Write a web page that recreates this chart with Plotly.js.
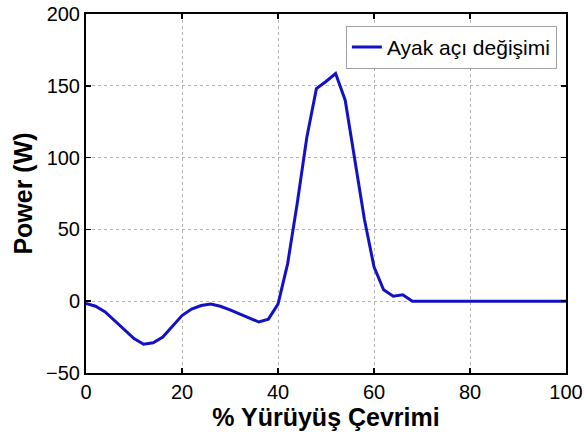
<!DOCTYPE html>
<html>
<head>
<meta charset="utf-8">
<script src="https://cdn.plot.ly/plotly-3.0.1.min.js"></script>
<style>
  html, body { margin: 0; padding: 0; background: #fff; }
  #chart { width: 584px; height: 432px; }
</style>
</head>
<body>
<div id="chart"></div>
<script>
// Gait cycle percentage (x) and ankle power (W)
const gaitPercent = [0, 2, 4, 6, 8, 10, 12, 14, 16, 18, 20, 22, 24, 26, 28, 30, 32, 34, 36, 38,
  40, 42, 44, 46, 48, 50, 52, 54, 56, 58, 60, 62, 64, 66, 68, 70, 72, 74, 76, 78,
  80, 82, 84, 86, 88, 90, 92, 94, 96, 98, 100];
const powerW = [-1.5, -3.5, -7.5, -13.5, -20, -26, -30, -29, -25, -17.5, -10, -5.5, -3, -2, -3.5, -6, -9, -12, -14.5, -12.5,
  -2, 26, 68, 114, 148, 153, 158.5, 140, 100, 57, 24, 8, 3.5, 4.5, 0, 0, 0, 0, 0, 0,
  0, 0, 0, 0, 0, 0, 0, 0, 0, 0, 0];
const seriesName = 'Ayak açı değişimi';
const xTicks = [0, 20, 40, 60, 80, 100];
const yTicks = [-50, 0, 50, 100, 150, 200];

const fontFamily = 'Liberation Sans, Arial, sans-serif';

const axisCommon = {
  showline: true,
  linecolor: '#000',
  linewidth: 2,
  mirror: 'ticks',
  ticks: 'inside',
  ticklen: 5,
  tickwidth: 1.5,
  tickcolor: '#000',
  showgrid: true,
  gridcolor: '#b0b0b0',
  griddash: 'dot',
  gridwidth: 1,
  zeroline: false,
  tickfont: { family: fontFamily, size: 20, color: '#000' }
};

const trace = {
  x: gaitPercent,
  y: powerW,
  name: seriesName,
  type: 'scatter',
  mode: 'lines',
  line: { color: '#1212c4', width: 3 }
};

const layout = {
  width: 584,
  height: 432,
  margin: { l: 86, r: 18, t: 14, b: 59 },
  paper_bgcolor: '#fff',
  plot_bgcolor: '#fff',
  showlegend: true,
  legend: {
    x: 0.981, xanchor: 'right',
    y: 0.967, yanchor: 'top',
    bgcolor: '#fff',
    bordercolor: '#a0a0a0',
    borderwidth: 1,
    font: { family: fontFamily, size: 21, color: '#000' },
    itemwidth: 30
  },
  xaxis: Object.assign({}, axisCommon, {
    range: [0, 100],
    tickvals: xTicks,
    title: { text: '<b>% Yürüyüş Çevrimi</b>', font: { family: fontFamily, size: 25, color: '#000' }, standoff: 0 }
  }),
  yaxis: Object.assign({}, axisCommon, {
    range: [-50, 200],
    tickvals: yTicks,
    title: { text: '<b>Power (W)</b>', font: { family: fontFamily, size: 25, color: '#000' }, standoff: 6 }
  })
};

Plotly.newPlot('chart', [trace], layout, { staticPlot: true, displayModeBar: false });
</script>
</body>
</html>
